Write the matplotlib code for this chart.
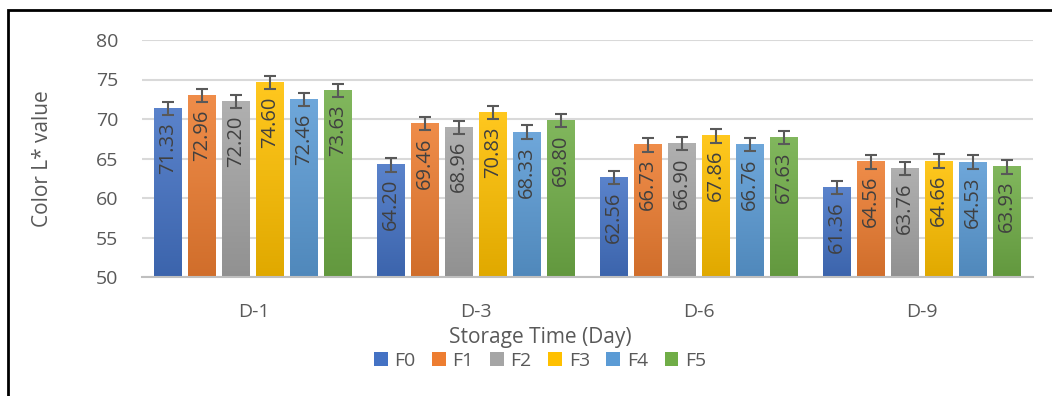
import matplotlib
matplotlib.use("Agg")
import matplotlib.pyplot as plt
import numpy as np
from matplotlib.colors import LinearSegmentedColormap, to_rgb
from matplotlib.patches import Rectangle

plt.rcParams['font.family'] = ['Open Sans', 'DejaVu Sans']

# data
days = ["D-1", "D-3", "D-6", "D-9"]
formulas = ["F0", "F1", "F2", "F3", "F4", "F5"]
F0 = [71.33, 64.20, 62.56, 61.36]
F1 = [72.96, 69.46, 66.73, 64.56]
F2 = [72.20, 68.96, 66.90, 63.76]
F3 = [74.60, 70.83, 67.86, 64.66]
F4 = [72.46, 68.33, 66.76, 64.53]
F5 = [73.63, 69.80, 67.63, 63.93]
err = [0.85, 0.85, 0.85, 0.85]
yticks = [50, 55, 60, 65, 70, 75, 80]

series = [F0, F1, F2, F3, F4, F5]
colors = ["#4472C4", "#ED7D31", "#A5A5A5", "#FFC000", "#5B9BD5", "#70AD47"]
text_col = "#595959"


def shade(c, f):
    r = np.array(to_rgb(c))
    if f >= 0:
        return tuple(r + (1 - r) * f)
    return tuple(r * (1 + f))


fig = plt.figure(figsize=(10.52, 3.96), dpi=100)
ax = fig.add_axes([142 / 1052, 1 - 277 / 396, (1033 - 142) / 1052, (277 - 40) / 396])

x = np.arange(len(days))
pitch = 0.1525
width = 0.1256

for i, (vals, c) in enumerate(zip(series, colors)):
    pos = x + (i - 2.5) * pitch
    bars = ax.bar(pos, np.array(vals) - 50, width, bottom=50, color=c,
                  zorder=2, label=formulas[i])
    cmap = LinearSegmentedColormap.from_list("g", [shade(c, -0.12), shade(c, 0.12)])
    grad = np.linspace(0, 1, 64).reshape(-1, 1)
    for b in bars:
        x0 = b.get_x()
        ax.imshow(grad, extent=[x0, x0 + b.get_width(), 50, 50 + b.get_height()],
                  origin="lower", aspect="auto", cmap=cmap, zorder=2.1)
    ax.errorbar(pos, vals, yerr=err, fmt="none", ecolor=text_col,
                elinewidth=1.5, capsize=4.5, capthick=1.5, zorder=3)
    for px, v in zip(pos, vals):
        ax.annotate(f"{v:.2f}", (px, v), xytext=(0, -10), textcoords="offset points",
                    rotation=90, ha="center", va="top", fontsize=14.5,
                    color="#404040", zorder=4)

ax.set_xlim(-0.5, 3.5)
ax.set_ylim(50, 80)
ax.set_yticks(yticks)
ax.set_xticks(x)
ax.set_xticklabels(days)
ax.tick_params(axis="both", length=0, labelsize=14, colors=text_col)
ax.tick_params(axis="y", pad=17)
ax.tick_params(axis="x", pad=19)
ax.grid(axis="y", color="#d9d9d9", linewidth=1.5, zorder=0)
ax.set_axisbelow(True)
for s in ["top", "right", "left"]:
    ax.spines[s].set_visible(False)
ax.spines["bottom"].set_color("#bfbfbf")
ax.spines["bottom"].set_linewidth(1.5)
ax.set_ylabel("Color L* value", fontsize=15, color=text_col, labelpad=31)

fig.text(540 / 1052, 1 - 338 / 396, "Storage Time (Day)", ha="center", va="center",
         fontsize=15, color=text_col)
handles, labels = ax.get_legend_handles_labels()
fig.legend(handles, labels, loc="center", bbox_to_anchor=(540 / 1052, 1 - 361 / 396),
           ncol=6, frameon=False, fontsize=14, labelcolor=text_col,
           handlelength=0.7, handleheight=0.7, handletextpad=0.35, columnspacing=0.85)

fig.patches.append(Rectangle((8 / 1052, -0.1), 1.1, 1 - 10 / 396 + 0.1,
                             transform=fig.transFigure, fill=False,
                             edgecolor="black", linewidth=2, zorder=10))

fig.savefig("out.png", dpi=100)
